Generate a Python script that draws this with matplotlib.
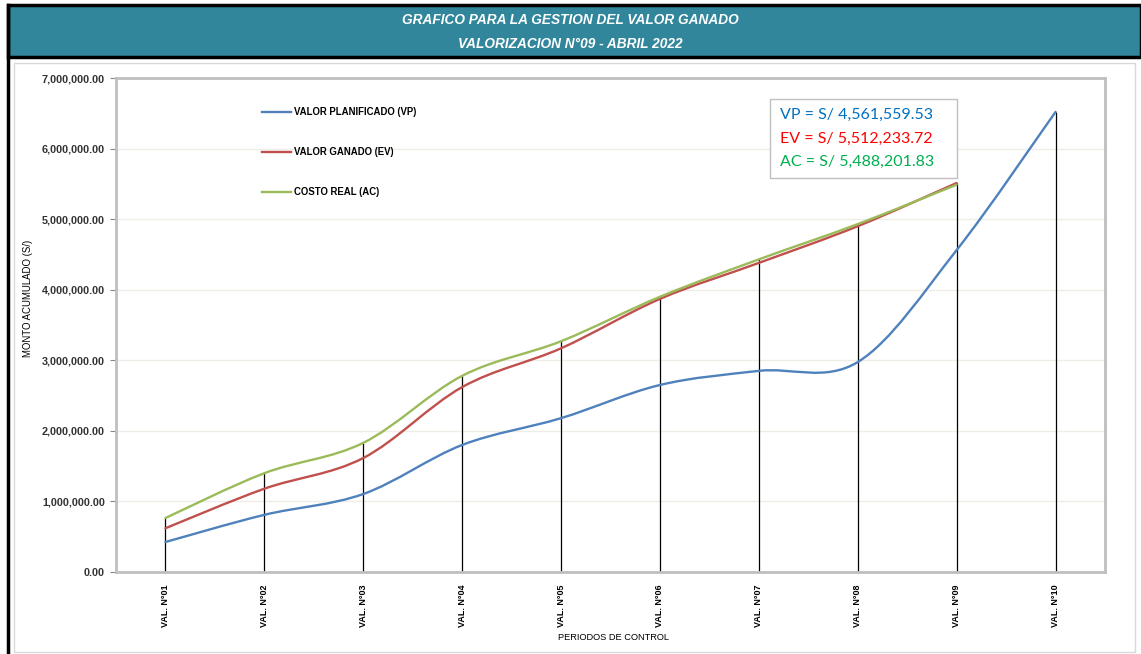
import matplotlib.pyplot as plt
from matplotlib.path import Path
from matplotlib.patches import PathPatch, Rectangle
from matplotlib.lines import Line2D
from matplotlib.ticker import FuncFormatter, MultipleLocator

# periodos de control
periodos = ['VAL. N°01', 'VAL. N°02', 'VAL. N°03', 'VAL. N°04', 'VAL. N°05',
            'VAL. N°06', 'VAL. N°07', 'VAL. N°08', 'VAL. N°09', 'VAL. N°10']

# montos acumulados (S/)
vp = [425000, 810000, 1105000, 1800000, 2180000, 2650000, 2850000, 2975000, 4561559.53, 6520000]
ev = [620000, 1180000, 1615000, 2620000, 3170000, 3870000, 4380000, 4900000, 5512233.72]
ac = [765000, 1400000, 1830000, 2780000, 3270000, 3900000, 4430000, 4930000, 5488201.83]

resumen = ['VP = S/ 4,561,559.53', 'EV = S/ 5,512,233.72', 'AC = S/ 5,488,201.83']

c_vp = '#4F81BD'
c_ev = '#C0504D'
c_ac = '#9BBB59'
teal = '#31869B'
narrow = ['Liberation Sans Narrow', 'Liberation Sans', 'DejaVu Sans']


# curva suavizada tipo Excel (bezier con tension 1/6)
def smooth_path(xs, ys):
    pts = list(zip(xs, ys))
    n = len(pts)
    verts = [pts[0]]
    codes = [Path.MOVETO]
    for i in range(n - 1):
        p0 = pts[max(i - 1, 0)]
        p1 = pts[i]
        p2 = pts[i + 1]
        p3 = pts[min(i + 2, n - 1)]
        c1 = (p1[0] + (p2[0] - p0[0]) / 6, p1[1] + (p2[1] - p0[1]) / 6)
        c2 = (p2[0] - (p3[0] - p1[0]) / 6, p2[1] - (p3[1] - p1[1]) / 6)
        verts += [c1, c2, p2]
        codes += [Path.CURVE4] * 3
    return Path(verts, codes)


fig = plt.figure(figsize=(11.41, 6.54), dpi=100)
W, H = 1141, 654

# cabecera
fig.patches.append(Rectangle((8 / W, 1 - 57 / H), 1 - 8 / W, 52 / H, transform=fig.transFigure,
                             facecolor=teal, edgecolor='black', linewidth=2.5))
fig.patches.append(Rectangle((14 / W, 1 - 652 / H), 1121 / W, 589 / H, transform=fig.transFigure,
                             facecolor='none', edgecolor='#d9d9d9', linewidth=1))
fig.add_artist(Line2D([8 / W, 8 / W], [0, 1 - 5 / H], transform=fig.transFigure,
                      color='black', linewidth=2.5))
fig.text(0.5, 1 - 20 / H, 'GRAFICO PARA LA GESTION DEL VALOR GANADO', ha='center', va='center',
         color='white', fontsize=9.8, fontweight='bold', fontstyle='italic', family=narrow)
fig.text(0.5, 1 - 44 / H, 'VALORIZACION N°09 - ABRIL 2022', ha='center', va='center',
         color='white', fontsize=9.8, fontweight='bold', fontstyle='italic', family=narrow)

ax = fig.add_axes([116 / W, 82 / H, 989 / W, 494 / H])
x = list(range(len(periodos)))

for serie, col in [(vp, c_vp), (ev, c_ev), (ac, c_ac)]:
    ax.add_patch(PathPatch(smooth_path(x[:len(serie)], serie), fill=False,
                           edgecolor=col, linewidth=1.7, zorder=3, capstyle='round'))

# lineas de proyeccion
for i in x:
    tops = [s[i] for s in (vp, ev, ac) if i < len(s)]
    ax.vlines(i, 0, max(tops), color='black', linewidth=0.9, zorder=2)

ax.set_xlim(-0.5, len(periodos) - 0.5)
ax.set_ylim(0, 7000000)
ax.yaxis.set_major_locator(MultipleLocator(1000000))
ax.yaxis.set_major_formatter(FuncFormatter(lambda v, p: f'{v:,.2f}'))
ax.grid(axis='y', color='#efede6', linewidth=1)
ax.set_axisbelow(True)
ax.set_xticks(x)
ax.set_xticklabels(periodos, rotation=90, fontsize=6.5, fontweight='bold', family='Liberation Sans')
ax.tick_params(axis='x', length=0, pad=9)
ax.tick_params(axis='y', length=4, color='#888888', labelsize=7.8, pad=4)
for lab in ax.get_yticklabels():
    lab.set_fontweight('bold')
    lab.set_family('Liberation Sans')
    lab.set_color('#333333')
for s in ax.spines.values():
    s.set_color('#bfbfbf')
    s.set_linewidth(2)

fig.text(28 / W, 1 - 298 / H, 'MONTO ACUMULADO (S/)', rotation=90, ha='center', va='center',
         fontsize=6.9, family=narrow)
fig.text(614 / W, 1 - 637 / H, 'PERIODOS DE CONTROL', ha='center', va='center',
         fontsize=6.7, family=narrow)

handles = [Line2D([], [], color=c_vp, linewidth=1.7),
           Line2D([], [], color=c_ev, linewidth=1.7),
           Line2D([], [], color=c_ac, linewidth=1.7)]
ax.legend(handles, ['VALOR PLANIFICADO (VP)', 'VALOR GANADO (EV)', 'COSTO REAL (AC)'],
          loc='upper left', bbox_to_anchor=(146 / 989, 1 - 29 / 494), frameon=False,
          prop={'size': 6.9, 'weight': 'bold', 'family': 'Liberation Sans'},
          labelspacing=3.15, handlelength=3.0, handletextpad=0.3, borderpad=0, borderaxespad=0)

# cuadro resumen
fig.patches.append(Rectangle((770 / W, 1 - 178 / H), 187 / W, 79 / H, transform=fig.transFigure,
                             facecolor='white', edgecolor='#bfbfbf', linewidth=1, zorder=5))
for k, (txt, col) in enumerate(zip(resumen, ['#0070C0', '#FF0000', '#00B050'])):
    fig.text(780 / W, 1 - (115 + 23.5 * k) / H, txt, ha='left', va='center', color=col,
             fontsize=11.5, family=['Lato', 'DejaVu Sans'], zorder=6)

fig.savefig('out.png', dpi=100)
